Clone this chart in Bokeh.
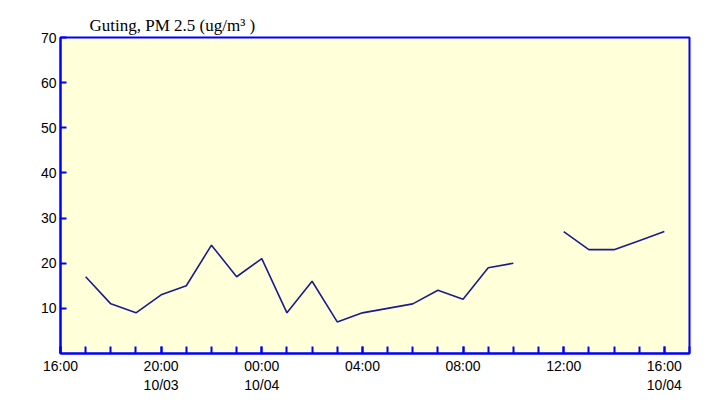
import pandas as pd
from bokeh.plotting import figure
from bokeh.models import FixedTicker, Range1d, ColumnDataSource
from bokeh.embed import file_html
from bokeh.resources import INLINE

# ---- data ----
times = ["2024-10-03 17:00", "2024-10-03 18:00", "2024-10-03 19:00", "2024-10-03 20:00",
         "2024-10-03 21:00", "2024-10-03 22:00", "2024-10-03 23:00", "2024-10-04 00:00",
         "2024-10-04 01:00", "2024-10-04 02:00", "2024-10-04 03:00", "2024-10-04 04:00",
         "2024-10-04 05:00", "2024-10-04 06:00", "2024-10-04 07:00", "2024-10-04 08:00",
         "2024-10-04 09:00", "2024-10-04 10:00", "2024-10-04 11:00", "2024-10-04 12:00",
         "2024-10-04 13:00", "2024-10-04 14:00", "2024-10-04 15:00", "2024-10-04 16:00"]
pm25 = [17, 11, 9, 13, 15, 24, 17, 21, 9, 16, 7, 9, 10, 11, 14, 12, 19, 20,
        float("nan"), 27, 23, 23, 25, 27]

x_ticks = ["2024-10-03 16:00", "2024-10-03 20:00", "2024-10-04 00:00", "2024-10-04 04:00",
           "2024-10-04 08:00", "2024-10-04 12:00", "2024-10-04 16:00"]
x_tick_labels = ["16:00", "20:00\n10/03", "00:00\n10/04", "04:00", "08:00", "12:00", "16:00\n10/04"]
y_ticks = [10, 20, 30, 40, 50, 60, 70]

x_start = "2024-10-03 16:00"
x_end = "2024-10-04 17:00"
y_max = 70

# ---- build ----
t = pd.to_datetime(times)
src = ColumnDataSource(dict(t=t, v=pm25))

def ms(s):
    return pd.Timestamp(s).value / 1e6

p = figure(width=716, height=396, x_axis_type="datetime", output_backend="svg",
           toolbar_location=None,
           x_range=Range1d(ms(x_start), ms(x_end)), y_range=Range1d(0, y_max),
           min_border_left=60, min_border_right=27, min_border_top=37, min_border_bottom=43)

p.line("t", "v", source=src, line_color="#1c1c8e", line_width=1.6)

minor = [ms(s) for s in pd.date_range(x_start, x_end, freq="h").strftime("%Y-%m-%d %H:%M")]
p.xaxis.ticker = FixedTicker(ticks=[ms(s) for s in x_ticks], minor_ticks=minor)
p.xaxis.major_label_overrides = {ms(s): lab for s, lab in zip(x_ticks, x_tick_labels)}
p.yaxis.ticker = FixedTicker(ticks=y_ticks)

for ax in (p.xaxis[0], p.yaxis[0]):
    ax.axis_line_color = "#0000ff"
    ax.axis_line_width = 2
    ax.major_tick_line_color = "#0000ff"
    ax.minor_tick_line_color = "#0000ff"
    ax.major_tick_line_width = 2
    ax.minor_tick_line_width = 2
    ax.major_tick_out = 0
    ax.minor_tick_out = 0
    ax.major_label_text_font = "Liberation Sans"
    ax.major_label_text_font_size = "14px"
    ax.major_label_text_color = "#000000"
    ax.major_label_standoff = 4

p.xaxis.major_tick_in = 7
p.xaxis.minor_tick_in = 7
p.yaxis.major_tick_in = 6
p.yaxis.minor_tick_in = 0

p.xgrid.visible = False
p.ygrid.visible = False

p.background_fill_color = "#ffffd9"
p.border_fill_color = "white"
p.outline_line_color = "#0000ff"
p.outline_line_width = 2

p.title.text = "Guting, PM 2.5 (ug/m\u00b3 )"
p.title.text_font = "Liberation Serif"
p.title.text_font_style = "normal"
p.title.text_font_size = "17px"
p.title.text_color = "#000000"
p.title.align = "left"
p.title.offset = 29
p.title.standoff = 5

open("out.html", "w").write(file_html(p, INLINE))
